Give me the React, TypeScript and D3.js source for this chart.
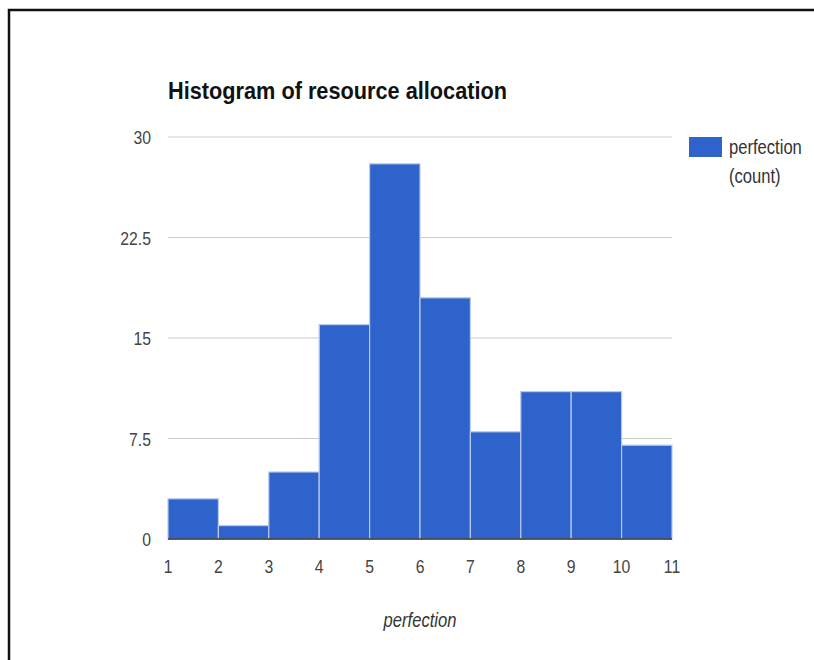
import React, { useRef, useEffect } from "react";
import * as d3 from "d3";

// bin edges and counts
const binStarts = [1, 2, 3, 4, 5, 6, 7, 8, 9, 10];
const binWidth = 1;
const counts = [3, 1, 5, 16, 28, 18, 8, 11, 11, 7];
const yTicks = [0, 7.5, 15, 22.5, 30];
const xTicks = [1, 2, 3, 4, 5, 6, 7, 8, 9, 10, 11];

const W = 814;
const H = 660;
// the reference's labels are tall and narrow, so squeeze them sideways
const SQUEEZE = 0.83;

const App = () => {
  const svgRef = useRef(null);

  useEffect(() => {
    const svg = d3.select(svgRef.current);
    svg.selectAll("*").remove();

    const font = "'Liberation Sans', Arial, sans-serif";
    const margin = { top: 137, right: 142, bottom: 121, left: 168 };
    const innerW = W - margin.left - margin.right;
    const innerH = H - margin.top - margin.bottom;

    const label = (parent, px, py, txt, size, anchor = "start", extra = {}) => {
      const t = parent
        .append("g")
        .attr("transform", `translate(${px},${py}) scale(${SQUEEZE},1)`)
        .append("text")
        .attr("text-anchor", anchor)
        .attr("font-family", font)
        .attr("font-size", size)
        .attr("fill", "#444")
        .text(txt);
      Object.entries(extra).forEach(([k, v]) => t.attr(k, v));
      return t;
    };

    // frame round the chart
    svg.append("rect")
      .attr("x", 9).attr("y", 10)
      .attr("width", W + 10).attr("height", H + 10)
      .attr("fill", "none")
      .attr("stroke", "#111")
      .attr("stroke-width", 2.5);

    const x = d3.scaleLinear().domain([1, 11]).range([0, innerW]);
    const y = d3.scaleLinear().domain([0, 30]).range([innerH, 0]);

    const g = svg.append("g").attr("transform", `translate(${margin.left},${margin.top})`);

    // gridlines
    g.selectAll(".grid")
      .data(yTicks.filter((d) => d !== 0))
      .enter()
      .append("line")
      .attr("x1", 0).attr("x2", innerW)
      .attr("y1", (d) => y(d)).attr("y2", (d) => y(d))
      .attr("stroke", "#cccccc")
      .attr("stroke-width", 1);

    yTicks.forEach((d) => label(g, -17, y(d) + 7, d, 19, "end"));

    // bars
    g.selectAll(".bar")
      .data(binStarts)
      .enter()
      .append("rect")
      .attr("x", (d) => x(d))
      .attr("y", (d, i) => y(counts[i]))
      .attr("width", (d) => x(d + binWidth) - x(d))
      .attr("height", (d, i) => innerH - y(counts[i]))
      .attr("fill", "#2e63cc")
      .attr("stroke", "#b9c9ec")
      .attr("stroke-width", 1.2);

    // baseline
    g.append("line")
      .attr("x1", 0).attr("x2", innerW)
      .attr("y1", innerH).attr("y2", innerH)
      .attr("stroke", "#333")
      .attr("stroke-width", 1.5);

    xTicks.forEach((d) => label(g, x(d), innerH + 34, d, 19, "middle"));

    label(svg, margin.left + innerW / 2, 627, "perfection", 20, "middle", {
      "font-style": "italic",
      fill: "#333",
    });

    svg.append("text")
      .attr("x", 168)
      .attr("y", 99)
      .attr("font-family", font)
      .attr("font-size", 24)
      .attr("font-weight", "bold")
      .attr("fill", "#111")
      .attr("textLength", 339)
      .attr("lengthAdjust", "spacingAndGlyphs")
      .text("Histogram of resource allocation");

    // legend
    svg.append("rect")
      .attr("x", 689).attr("y", 137)
      .attr("width", 33).attr("height", 20)
      .attr("fill", "#2e63cc");
    label(svg, 729, 154, "perfection", 20, "start", { fill: "#333" });
    label(svg, 729, 183, "(count)", 20, "start", { fill: "#333" });
  }, []);

  return (
    <div style={{ position: "absolute", left: 0, top: 0 }}>
      <svg ref={svgRef} width={W} height={H} style={{ display: "block", background: "#fff" }} />
    </div>
  );
};

export default App;
